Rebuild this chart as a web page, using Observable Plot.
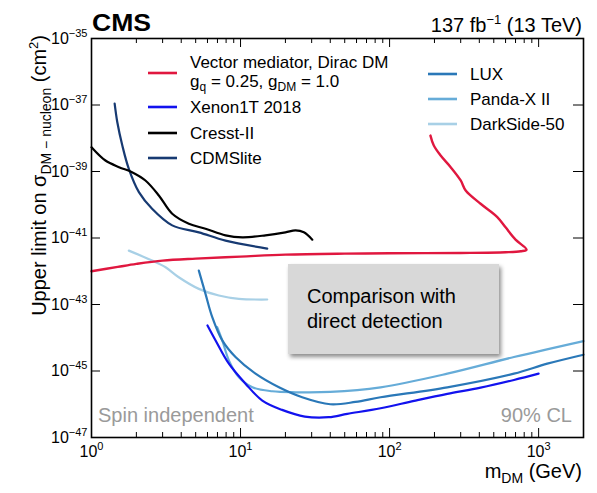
<!DOCTYPE html>
<html>
<head>
<meta charset="utf-8">
<script src="https://cdn.jsdelivr.net/npm/d3@7"></script>
<script src="https://cdn.jsdelivr.net/npm/@observablehq/plot@0.6"></script>
<style>
  html, body { margin: 0; padding: 0; background: white; }
  #chart svg { display: block; }
</style>
</head>
<body>
<div id="chart"></div>
<script>
// ---- data (mass in GeV, log10 of cross section in cm^2) ----
const cmsMass = [1, 1.5, 2, 3, 5, 10, 20, 50, 100, 300, 600, 760, 830, 700, 600, 528, 408, 324, 300, 257, 220, 198, 188];
const cmsLogSigma = [-42.0, -41.87, -41.78, -41.68, -41.62, -41.56, -41.5, -41.47, -41.46, -41.45, -41.43, -41.40, -41.35, -41.05, -40.68, -40.37, -39.97, -39.57, -39.27, -38.87, -38.52, -38.22, -37.92];

const xenonMass = [6.0, 6.8, 8.35, 10.8, 14, 19, 27, 39, 52, 87, 146, 244, 408, 683, 1000];
const xenonLogSigma = [-43.63, -44.08, -44.78, -45.38, -45.89, -46.17, -46.37, -46.39, -46.29, -46.12, -45.9, -45.69, -45.5, -45.27, -45.08];

const cresstMass = [1.0, 1.24, 1.53, 1.87, 2.30, 2.83, 3.48, 4.5, 5.82, 7.93, 10.3, 14.7, 20, 23.4, 26.6, 30.3];
const cresstLogSigma = [-38.27, -38.67, -38.87, -39.02, -39.27, -39.72, -40.27, -40.57, -40.72, -40.92, -40.98, -40.92, -40.83, -40.77, -40.83, -41.05];

const cdmsMass = [1.43, 1.49, 1.61, 1.78, 2.08, 2.55, 3.48, 5.25, 7.93, 15.1];
const cdmsLogSigma = [-36.96, -37.52, -38.22, -38.92, -39.62, -40.12, -40.62, -40.83, -41.08, -41.32];

const luxMass = [5.25, 5.82, 6.46, 7.54, 9.25, 12.6, 18.1, 25.9, 40, 59, 87, 244, 683, 1143, 2000];
const luxLogSigma = [-41.98, -42.68, -43.38, -44.08, -44.58, -45.08, -45.49, -45.79, -46.0, -45.93, -45.79, -45.49, -45.08, -44.78, -44.51];

const pandaMass = [6.97, 7.54, 8.35, 9.75, 12, 16.3, 23.4, 40, 87, 244, 683, 2000];
const pandaLogSigma = [-43.68, -44.08, -44.68, -45.19, -45.49, -45.61, -45.64, -45.63, -45.49, -45.08, -44.58, -44.10];

const darkMass = [1.78, 2.55, 3.14, 3.85, 5.25, 7.15, 9.75, 15.1];
const darkLogSigma = [-41.38, -41.68, -41.88, -42.18, -42.53, -42.73, -42.83, -42.85];

const seriesNames = ["Vector mediator", "Xenon1T 2018", "Cresst-II", "CDMSlite", "LUX", "Panda-X II", "DarkSide-50"];
const seriesColors = ["#e0173f", "#1212ee", "#000000", "#173a72", "#2a78b8", "#66acd8", "#a8d0e6"];

const xTicks = [1, 10, 100, 1000];
const xMinorTicks = [2,3,4,5,6,7,8,9,20,30,40,50,60,70,80,90,200,300,400,500,600,700,800,900];
const yTicks = [1e-47, 1e-45, 1e-43, 1e-41, 1e-39, 1e-37, 1e-35];

// ---- build tables ----
function table(mass, logSigma) {
  return mass.map((m, i) => ({m, s: Math.pow(10, logSigma[i])}));
}
const series = [
  table(cmsMass, cmsLogSigma),
  table(xenonMass, xenonLogSigma),
  table(cresstMass, cresstLogSigma),
  table(cdmsMass, cdmsLogSigma),
  table(luxMass, luxLogSigma),
  table(pandaMass, pandaLogSigma),
  table(darkMass, darkLogSigma)
];

const W = 597, H = 493;
const mL = 91, mR = 14, mT = 38, mB = 56;
const fw = W - mL - mR, fh = H - mT - mB;
const FONT = "'Liberation Sans', Arial, Helvetica, sans-serif";

const drawOrder = [6, 5, 4, 3, 2, 1, 0];
const lineMarks = drawOrder.map(i => Plot.line(series[i], {
  x: "m", y: "s", stroke: seriesColors[i], strokeWidth: i === 0 ? 2.4 : 2.2, curve: "catmull-rom"
}));

const svg = Plot.plot({
  width: W, height: H,
  marginLeft: mL, marginRight: mR, marginTop: mT, marginBottom: mB,
  style: {fontFamily: FONT, fontSize: "16px", background: "white", color: "black"},
  x: {type: "log", domain: [1, 2000]},
  y: {type: "log", domain: [1e-47, 1e-35]},
  marks: [
    ...lineMarks,
    // inward ticks
    Plot.ruleX(xTicks, {x: d => d, insetTop: fh - 9, stroke: "black", strokeWidth: 1}),
    Plot.ruleX(xTicks, {x: d => d, insetBottom: fh - 9, stroke: "black", strokeWidth: 1}),
    Plot.ruleX(xMinorTicks, {x: d => d, insetTop: fh - 5, stroke: "black", strokeWidth: 1}),
    Plot.ruleX(xMinorTicks, {x: d => d, insetBottom: fh - 5, stroke: "black", strokeWidth: 1}),
    Plot.ruleY(yTicks, {y: d => d, insetRight: fw - 9, stroke: "black", strokeWidth: 1}),
    Plot.ruleY(yTicks, {y: d => d, insetLeft: fw - 10, stroke: "black", strokeWidth: 1}),
    Plot.axisX({ticks: xTicks, tickSize: 0, tickPadding: 8, label: null, fontSize: 16,
      tickFormat: d => "10^" + Math.round(Math.log10(d))}),
    Plot.axisY({ticks: yTicks, tickSize: 0, tickPadding: 4, label: null, fontSize: 16,
      tickFormat: d => "10^" + Math.round(Math.log10(d))}),
    Plot.frame({stroke: "black", strokeWidth: 1.6})
  ]
});

// superscripts in tick labels
svg.querySelectorAll("text").forEach(t => {
  const s = t.textContent;
  if (s.startsWith("10^")) {
    const e = s.slice(3).replace("-", "\u2212");
    t.textContent = "";
    const a = document.createElementNS("http://www.w3.org/2000/svg", "tspan");
    a.textContent = "10";
    const b = document.createElementNS("http://www.w3.org/2000/svg", "tspan");
    b.textContent = e;
    b.setAttribute("font-size", "11px");
    b.setAttribute("dy", "-7");
    t.appendChild(a); t.appendChild(b);
  }
});

const g = d3.select(svg).append("g").attr("font-family", FONT).attr("fill", "black")
  .attr("text-anchor", "start").attr("font-weight", "normal");

// shadow filter
const defs = d3.select(svg).append("defs");
const f = defs.append("filter").attr("id", "shadow").attr("x", "-10%").attr("y", "-10%").attr("width", "130%").attr("height", "140%");
f.append("feDropShadow").attr("dx", 2).attr("dy", 3).attr("stdDeviation", 2.2).attr("flood-color", "#000").attr("flood-opacity", 0.45);

// Comparison box
g.append("rect").attr("x", 288).attr("y", 264).attr("width", 211).attr("height", 90)
  .attr("fill", "#d8d8d8").attr("filter", "url(#shadow)");
g.append("text").attr("x", 307).attr("y", 303).attr("font-size", 20).text("Comparison with");
g.append("text").attr("x", 307).attr("y", 328).attr("font-size", 20).text("direct detection");

// CMS and lumi labels
g.append("text").attr("x", 92).attr("y", 31).attr("font-size", 24).attr("font-weight", "bold")
  .attr("textLength", 59).attr("lengthAdjust", "spacingAndGlyphs").text("CMS");
const lumi = g.append("text").attr("x", 582).attr("y", 32).attr("font-size", 20).attr("text-anchor", "end");
lumi.append("tspan").text("137 fb");
lumi.append("tspan").attr("font-size", 13).attr("dy", -8).text("\u22121");
lumi.append("tspan").attr("dy", 8).text(" (13 TeV)");

// gray annotations
g.append("text").attr("x", 98).attr("y", 422).attr("font-size", 20).attr("fill", "#9a9a9a").text("Spin independent");
g.append("text").attr("x", 572).attr("y", 422).attr("font-size", 20).attr("fill", "#9a9a9a").attr("text-anchor", "end").text("90% CL");

// axis titles
const xt = g.append("text").attr("x", 582).attr("y", 478).attr("font-size", 20).attr("text-anchor", "end");
xt.append("tspan").text("m");
xt.append("tspan").attr("font-size", 14).attr("dy", 5).text("DM");
xt.append("tspan").attr("dy", -5).text(" (GeV)");

const yt = g.append("text").attr("transform", "translate(46,35) rotate(-90)").attr("font-size", 20).attr("text-anchor", "end");
yt.append("tspan").text("Upper limit on \u03c3");
yt.append("tspan").attr("font-size", 14).attr("dy", 5).text("DM \u2212 nucleon");
yt.append("tspan").attr("dy", -5).text(" (cm");
yt.append("tspan").attr("font-size", 13).attr("dy", -8).text("2");
yt.append("tspan").attr("dy", 8).text(")");

// legends
function legendLine(x1, x2, y, color) {
  g.append("line").attr("x1", x1).attr("x2", x2).attr("y1", y).attr("y2", y)
    .attr("stroke", color).attr("stroke-width", 2.6);
}
// left legend
legendLine(148, 177, 73, seriesColors[0]);
g.append("text").attr("x", 190).attr("y", 68).attr("font-size", 17).text("Vector mediator, Dirac DM");
const gq = g.append("text").attr("x", 190).attr("y", 87).attr("font-size", 17);
gq.append("tspan").text("g");
gq.append("tspan").attr("font-size", 12).attr("dy", 4).text("q");
gq.append("tspan").attr("dy", -4).text(" = 0.25, g");
gq.append("tspan").attr("font-size", 12).attr("dy", 4).text("DM");
gq.append("tspan").attr("dy", -4).text(" = 1.0");
[[1, 107], [2, 133], [3, 158]].forEach(([i, y]) => {
  legendLine(148, 177, y, seriesColors[i]);
  g.append("text").attr("x", 190).attr("y", y + 6).attr("font-size", 17).text(seriesNames[i]);
});
// right legend
[[4, 74], [5, 99], [6, 124]].forEach(([i, y]) => {
  legendLine(428, 457, y, seriesColors[i]);
  g.append("text").attr("x", 470).attr("y", y + 6).attr("font-size", 17).text(seriesNames[i]);
});

document.getElementById("chart").appendChild(svg);
</script>
</body>
</html>
